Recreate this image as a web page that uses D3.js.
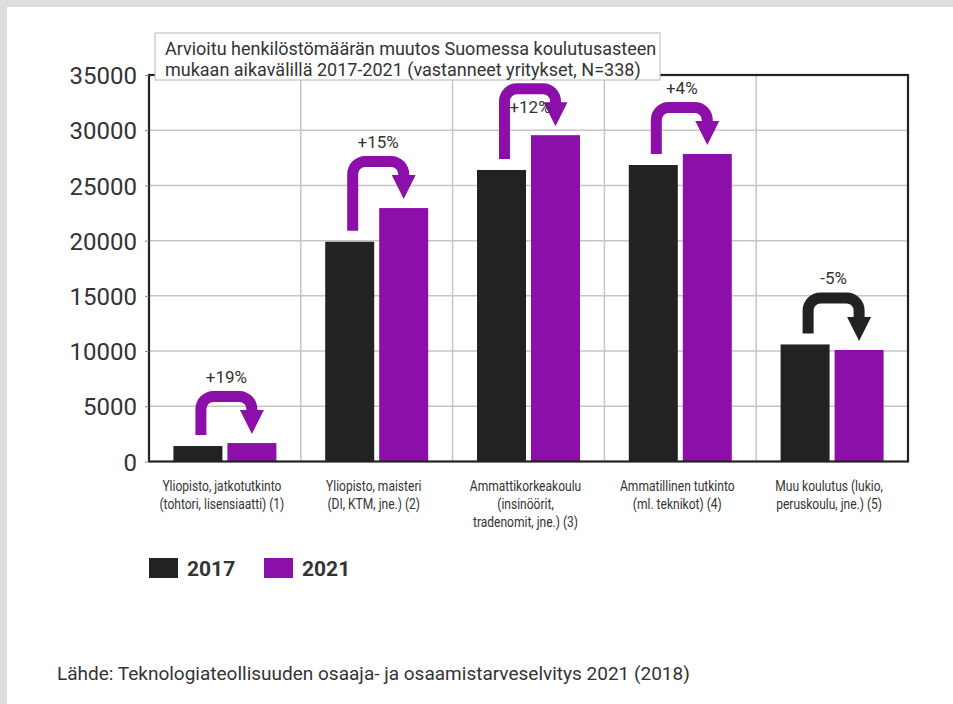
<!DOCTYPE html>
<html>
<head>
<meta charset="utf-8">
<script src="https://cdn.jsdelivr.net/npm/d3@7"></script>
<style>
  html, body { margin: 0; padding: 0; background: #dcdddf; }
  svg { display: block; }
</style>
</head>
<body>
<div id="chart"></div>
<script>
const categories = [
  ['Yliopisto, jatkotutkinto', '(tohtori, lisensiaatti) (1)'],
  ['Yliopisto, maisteri', '(DI, KTM, jne.) (2)'],
  ['Ammattikorkeakoulu', '(insinöörit,', 'tradenomit, jne.) (3)'],
  ['Ammatillinen tutkinto', '(ml. teknikot) (4)'],
  ['Muu koulutus (lukio,', 'peruskoulu, jne.) (5)']
];
const values2017 = [1400, 19900, 26400, 26850, 10600];
const values2021 = [1670, 22950, 29550, 27850, 10100];
const changes = ['+19%', '+15%', '+12%', '+4%', '-5%'];
const years = ['2017', '2021'];
const yTicks = [0, 5000, 10000, 15000, 20000, 25000, 30000, 35000];
const titleLines = [
  'Arvioitu henkilöstömäärän muutos Suomessa koulutusasteen',
  'mukaan aikavälillä 2017-2021 (vastanneet yritykset, N=338)'
];
const source = 'Lähde: Teknologiateollisuuden osaaja- ja osaamistarveselvitys 2021 (2018)';

const d3 = window.d3;
const W = 953, H = 704;
const FONT = "Roboto, 'Noto Sans', sans-serif";
const C17 = '#222222', C21 = '#8b0fa8', TXT = '#333333';
const plot = { left: 149, right: 908, top: 75, bottom: 461.5 };
const titleBox = { x: 155, y: 33, w: 505, h: 47 };

const svg = d3.select('#chart').append('svg')
  .attr('width', W).attr('height', H);

svg.append('rect').attr('x', 7).attr('y', 7)
  .attr('width', W - 7).attr('height', H - 7).attr('fill', '#fff');

const keys = categories.map((c, i) => 'c' + i);
const x = d3.scaleBand().domain(keys).range([plot.left, plot.right]);
const xIn = d3.scaleBand().domain(years).range([0, x.bandwidth()])
  .paddingInner(0.0926).paddingOuter(0.452);
const y = d3.scaleLinear().domain([0, 35000]).range([plot.bottom, plot.top]);

// Grid
const grid = svg.append('g').attr('stroke', '#c6c6c6').attr('stroke-width', 1.5);
grid.selectAll('.h').data(yTicks.slice(1, -1)).enter().append('line')
  .attr('x1', plot.left).attr('x2', plot.right)
  .attr('y1', d => y(d)).attr('y2', d => y(d));
grid.selectAll('.v').data(keys.slice(1)).enter().append('line')
  .attr('x1', d => x(d)).attr('x2', d => x(d))
  .attr('y1', plot.top).attr('y2', plot.bottom);

// Bars
const series = [values2017, values2021];
const groups = svg.append('g').selectAll('g').data(keys).enter().append('g')
  .attr('transform', d => `translate(${x(d)},0)`);
years.forEach((yr, s) => {
  groups.append('rect')
    .attr('x', xIn(yr)).attr('width', xIn.bandwidth())
    .attr('y', (d, i) => y(series[s][i]))
    .attr('height', (d, i) => plot.bottom - y(series[s][i]))
    .attr('fill', s === 0 ? C17 : C21);
});

// Frame
svg.append('rect')
  .attr('x', plot.left).attr('y', plot.top)
  .attr('width', plot.right - plot.left).attr('height', plot.bottom - plot.top)
  .attr('fill', 'none').attr('stroke', C17).attr('stroke-width', 2.2);

// Y axis
const yAxis = svg.append('g').attr('transform', `translate(${plot.left},0)`)
  .call(d3.axisLeft(y).tickValues(yTicks).tickSize(4).tickPadding(8).tickFormat(d3.format('d')));
yAxis.select('.domain').remove();
yAxis.selectAll('line').attr('stroke', '#888');
yAxis.selectAll('text').attr('fill', TXT).attr('font-family', FONT)
  .attr('font-size', '24px').attr('dy', '0.36em');

// Arrows + labels
function arrowPath(sx, hx, yb, yt, yh) {
  const w = 5.5, r = 18, t = 11, ri = r - t, hw = 12, hh = 24;
  const p = d3.path();
  p.moveTo(sx - w, yb);
  p.lineTo(sx - w, yt + r);
  p.arcTo(sx - w, yt, sx - w + r, yt, r);
  p.lineTo(hx + w - r, yt);
  p.arcTo(hx + w, yt, hx + w, yt + r, r);
  p.lineTo(hx + w, yh - hh);
  p.lineTo(hx + hw, yh - hh);
  p.lineTo(hx, yh);
  p.lineTo(hx - hw, yh - hh);
  p.lineTo(hx - w, yh - hh);
  p.lineTo(hx - w, yt + t + ri);
  p.arcTo(hx - w, yt + t, hx - w - ri, yt + t, ri);
  p.lineTo(sx + w + ri, yt + t);
  p.arcTo(sx + w, yt + t, sx + w, yt + t + ri, ri);
  p.lineTo(sx + w, yb);
  p.closePath();
  return p.toString();
}

keys.forEach((k, i) => {
  const y0 = y(values2017[i]), y1 = y(values2021[i]);
  const sx = x(k) + xIn('2017') + xIn.bandwidth() / 2 + 3;
  const hx = x(k) + xIn('2021') + xIn.bandwidth() / 2;
  const yt = Math.min(y0, y1) - 52;
  const up = values2021[i] >= values2017[i];
  svg.append('path')
    .attr('d', arrowPath(sx, hx, y0 - 11, yt, y1 - 9))
    .attr('fill', up ? C21 : C17);
  const lx = (sx + hx) / 2;
  let ly = yt - 8;
  // label would hide under the title box: put it inside the arch
  if (ly - 14 < titleBox.y + titleBox.h && lx > titleBox.x && lx < titleBox.x + titleBox.w) ly = yt + 30;
  svg.append('text')
    .attr('x', lx).attr('y', ly).attr('text-anchor', 'middle')
    .attr('fill', TXT).attr('font-family', FONT).attr('font-size', '17px')
    .text(changes[i]);
});

// X labels
keys.forEach((k, i) => {
  const cx = x(k) + x.bandwidth() / 2 - 3;
  const g = svg.append('g').attr('transform', `translate(${cx},0) scale(0.86,1)`);
  categories[i].forEach((line, j) => {
    g.append('text')
      .attr('x', 0).attr('y', 491 + j * 18).attr('text-anchor', 'middle')
      .attr('fill', TXT).attr('font-family', FONT).attr('font-size', '14px')
      .text(line);
  });
});

// Title box
svg.append('rect')
  .attr('x', titleBox.x).attr('y', titleBox.y)
  .attr('width', titleBox.w).attr('height', titleBox.h)
  .attr('fill', '#fff').attr('stroke', '#b8b8b8').attr('stroke-width', 1);
titleLines.forEach((line, j) => {
  svg.append('text')
    .attr('x', 165).attr('y', 55 + j * 21)
    .attr('fill', TXT).attr('font-family', FONT).attr('font-size', '18px')
    .text(line);
});

// Legend
const legend = svg.append('g').attr('transform', 'translate(149,558)');
const legX = [0, 115];
years.forEach((yr, s) => {
  legend.append('rect').attr('x', legX[s]).attr('y', 0)
    .attr('width', 29).attr('height', 20).attr('fill', s === 0 ? C17 : C21);
  legend.append('text').attr('x', legX[s] + 38).attr('y', 18)
    .attr('fill', TXT).attr('font-family', FONT).attr('font-size', '21px')
    .attr('font-weight', 'bold').text(yr);
});

// Source
svg.append('text').attr('x', 57).attr('y', 680)
  .attr('fill', TXT).attr('font-family', FONT).attr('font-size', '19px')
  .text(source);
</script>
</body>
</html>
